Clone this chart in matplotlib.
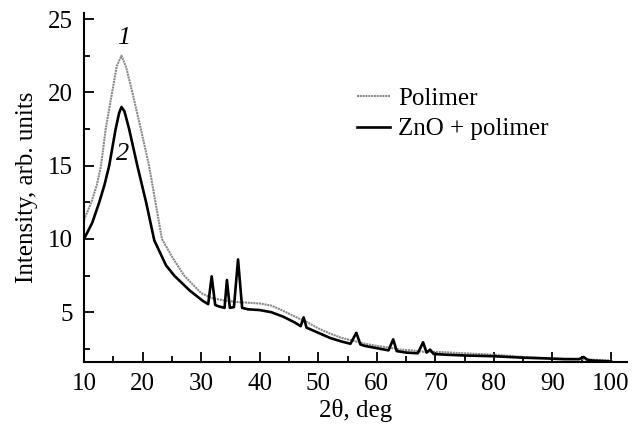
import matplotlib.pyplot as plt

plt.rcParams['font.family'] = ['Liberation Serif', 'DejaVu Serif']

# Polimer (curve 1)
x_pol = [10, 11.25, 12.2, 12.9, 13.7, 14.8, 15.6, 16.4, 17.2, 18.25, 19.7, 21.1, 22.2,
         23.3, 25, 27.1, 30, 32, 34, 36, 38, 40, 42, 44, 46, 48, 50, 52, 54, 56, 58,
         60, 62, 64, 66, 68, 70, 75, 80, 85, 90, 95, 100]
y_pol = [11.3, 12.5, 13.7, 15.0, 17.5, 20.0, 21.8, 22.5, 21.7, 20.0, 17.5, 15.0, 12.5,
         10.0, 8.8, 7.5, 6.3, 5.95, 5.8, 5.7, 5.65, 5.6, 5.45, 5.1, 4.7, 4.35, 3.9,
         3.55, 3.25, 3.05, 2.85, 2.7, 2.6, 2.45, 2.4, 2.3, 2.3, 2.2, 2.1, 1.95, 1.85,
         1.8, 1.7]

# ZnO + polimer (curve 2)
x_zno = [10, 11.4, 12.6, 13.5, 14.3, 15.4, 16.0, 16.4, 16.9, 17.7, 19.1, 20.6, 22, 24,
         25.4, 28, 30.2, 31.2, 31.8, 32.4, 33, 34, 34.4, 34.9, 35.6, 36.3, 37, 38, 40,
         42, 44, 46, 47, 47.5, 48, 50, 52, 54, 55.5, 56.5, 57.2, 58, 60, 62, 62.8,
         63.4, 65, 67, 67.9, 68.5, 69.1, 69.7, 72, 75, 80, 85, 89, 92, 94.5, 95.3, 96,
         97, 100]
y_zno = [10.0, 11.1, 12.5, 13.7, 15.0, 17.5, 18.6, 19.0, 18.7, 17.5, 15.0, 12.5, 9.9,
         8.2, 7.5, 6.5, 5.8, 5.55, 7.45, 5.5, 5.4, 5.3, 7.2, 5.3, 5.35, 8.6, 5.3, 5.2,
         5.15, 5.0, 4.7, 4.3, 4.05, 4.65, 3.95, 3.6, 3.25, 3.0, 2.85, 3.6, 2.8, 2.7,
         2.55, 2.4, 3.15, 2.35, 2.25, 2.2, 2.95, 2.25, 2.45, 2.15, 2.1, 2.05, 2.0, 1.9,
         1.85, 1.8, 1.8, 1.95, 1.75, 1.7, 1.65]

fig = plt.figure(figsize=(6.39, 4.24), dpi=100)
ax = fig.add_axes([0.1315, 0.146, 0.8495, 0.823])

ax.plot(x_pol, y_pol, color='#8a8a8a', lw=1.5, ls=(0, (1, 0.35)), label='Polimer')
ax.plot(x_zno, y_zno, color='black', lw=1.9, label='ZnO + polimer')

ax.set_xlim(10, 102.7)
ax.set_ylim(1.6, 25.4)
ax.set_xticks(range(10, 101, 10))
ax.set_xticks(range(15, 101, 10), minor=True)
ax.set_yticks([5, 10, 15, 20, 25])
ax.set_yticks([2.5, 7.5, 12.5, 17.5, 22.5], minor=True)

for s in ['top', 'right']:
    ax.spines[s].set_visible(False)
for s in ['left', 'bottom']:
    ax.spines[s].set_linewidth(1.5)

ax.tick_params(which='major', direction='in', length=7, width=1.3, labelsize=18)
ax.tick_params(which='minor', direction='in', length=4, width=1.3)
ax.tick_params(axis='x', pad=8)
ax.tick_params(axis='y', pad=8)

ax.set_xlabel('2θ, deg', fontsize=18, labelpad=3)
ax.set_ylabel('Intensity, arb. units', fontsize=18, labelpad=7)

ax.text(16.7, 23.7, '1', fontsize=19, style='italic', ha='center', va='center')
ax.text(16.6, 15.8, '2', fontsize=19, style='italic', ha='center', va='center')

ax.legend(loc='upper left', bbox_to_anchor=(0.503, 0.787), frameon=False, fontsize=18,
          handlelength=1.3, handletextpad=0.35, labelspacing=0.32, borderaxespad=0,
          borderpad=0)

fig.savefig('out.png', dpi=100)
